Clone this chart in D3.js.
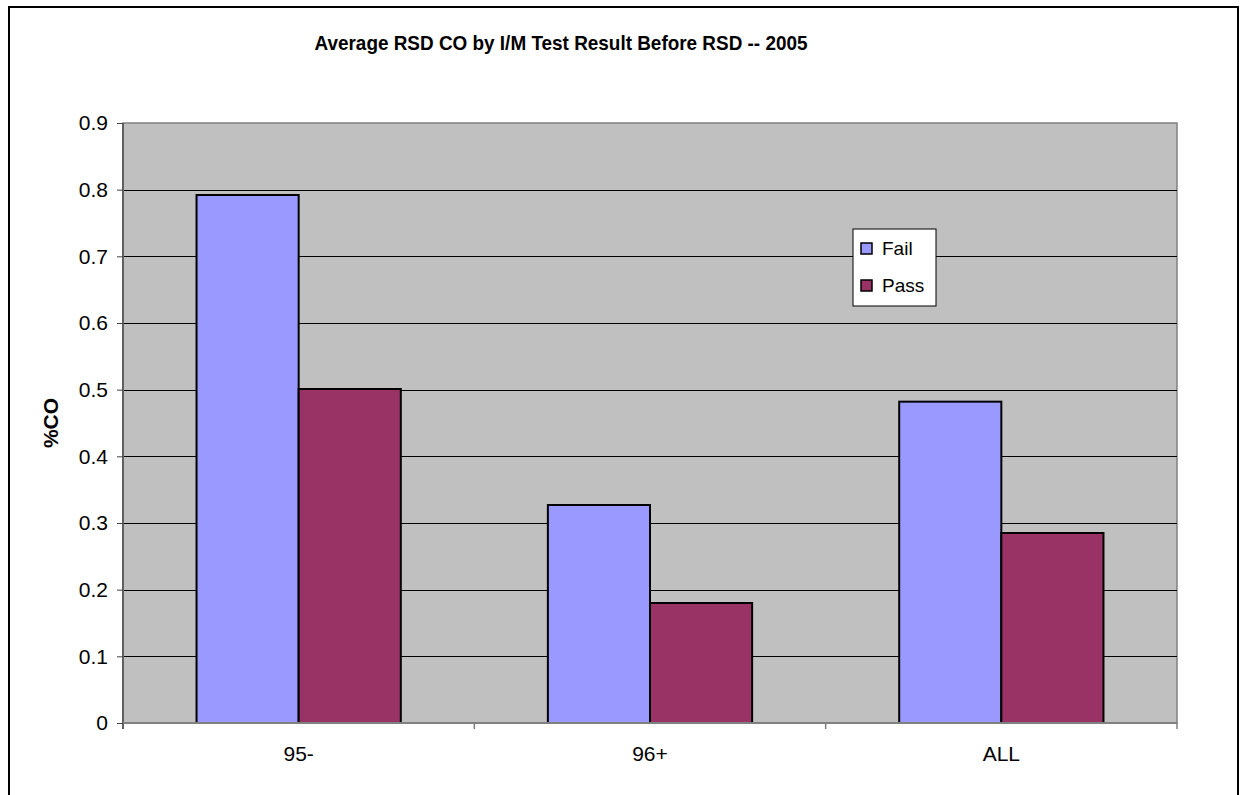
<!DOCTYPE html>
<html>
<head>
<meta charset="utf-8">
<script src="https://cdn.jsdelivr.net/npm/d3@7"></script>
<style>
  body { margin: 0; background: #fff; }
  text { font-family: "Liberation Sans", Arial, sans-serif; fill: #000; }
</style>
</head>
<body>
<div id="chart"></div>
<script>
var categories = ["95-", "96+", "ALL"];
var seriesNames = ["Fail", "Pass"];
var failValues = [0.792, 0.327, 0.482];
var passValues = [0.501, 0.180, 0.285];
var yTicks = [0, 0.1, 0.2, 0.3, 0.4, 0.5, 0.6, 0.7, 0.8, 0.9];
var colors = { Fail: "#9999ff", Pass: "#993366" };

var data = categories.map(function (c, i) {
  return { cat: c, Fail: failValues[i], Pass: passValues[i] };
});

var W = 1241, H = 795;
var margin = { top: 123, right: 64, bottom: 72, left: 123 };
var width = W - margin.left - margin.right;
var height = H - margin.top - margin.bottom;

var svg = d3.select("#chart").append("svg")
  .attr("width", W)
  .attr("height", H);

// outer chart border
svg.append("rect")
  .attr("x", 9).attr("y", 7)
  .attr("width", 1229).attr("height", 800)
  .attr("fill", "#fff")
  .attr("stroke", "#000")
  .attr("stroke-width", 2);

var g = svg.append("g")
  .attr("transform", "translate(" + margin.left + "," + margin.top + ")");

var x0 = d3.scaleBand().domain(categories).range([0, width]).padding(0);
var x1 = d3.scaleBand().domain(seriesNames).range([0, x0.bandwidth()])
  .paddingInner(0).paddingOuter(0.72);
var y = d3.scaleLinear().domain([0, 0.9]).range([height, 0]);

// plot area
g.append("rect")
  .attr("width", width).attr("height", height)
  .attr("fill", "#c0c0c0")
  .attr("stroke", "#808080")
  .attr("stroke-width", 1.5);

// gridlines
g.selectAll(".grid")
  .data(yTicks.filter(function (d) { return d > 0 && d < 0.9; }))
  .enter().append("line")
  .attr("x1", 0).attr("x2", width)
  .attr("y1", function (d) { return Math.round(y(d)) + 0.5; })
  .attr("y2", function (d) { return Math.round(y(d)) + 0.5; })
  .attr("stroke", "#000")
  .attr("stroke-width", 1);

// bars
var groups = g.selectAll(".grp")
  .data(data)
  .enter().append("g")
  .attr("transform", function (d) { return "translate(" + x0(d.cat) + ",0)"; });

groups.selectAll("rect")
  .data(function (d) { return seriesNames.map(function (k) { return { key: k, value: d[k] }; }); })
  .enter().append("rect")
  .attr("x", function (d) { return x1(d.key); })
  .attr("y", function (d) { return y(d.value); })
  .attr("width", x1.bandwidth())
  .attr("height", function (d) { return height - y(d.value); })
  .attr("fill", function (d) { return colors[d.key]; })
  .attr("stroke", "#000")
  .attr("stroke-width", 2);

// y axis
var yAxis = g.append("g")
  .call(d3.axisLeft(y).tickValues(yTicks).tickFormat(d3.format("~g")).tickSize(6).tickPadding(9));
yAxis.select(".domain").attr("stroke", "#606060").attr("stroke-width", 2)
  .attr("d", "M0,0V" + (height + 6));
yAxis.selectAll(".tick line").attr("stroke", "#404040");
yAxis.selectAll(".tick text")
  .style("font-size", "21px")
  .style("font-family", "Liberation Sans, Arial, sans-serif")
  .attr("fill", "#000");

// x axis
var xAxis = g.append("g")
  .attr("transform", "translate(0," + height + ")")
  .call(d3.axisBottom(x0).tickSize(0).tickPadding(23));
xAxis.select(".domain").attr("stroke", "#808080").attr("stroke-width", 2)
  .attr("d", "M0,0H" + width);
xAxis.selectAll(".tick text")
  .style("font-size", "21px")
  .style("font-family", "Liberation Sans, Arial, sans-serif")
  .attr("fill", "#000");

// category separator ticks
g.selectAll(".xsep")
  .data(categories.slice(1).concat(["end"]))
  .enter().append("line")
  .attr("x1", function (d, i) { return i < categories.length - 1 ? x0(d) : width; })
  .attr("x2", function (d, i) { return i < categories.length - 1 ? x0(d) : width; })
  .attr("y1", height)
  .attr("y2", height + 6)
  .attr("stroke", "#808080")
  .attr("stroke-width", 1.5);

// title
svg.append("text")
  .attr("x", 561)
  .attr("y", 50)
  .attr("text-anchor", "middle")
  .attr("textLength", 493)
  .attr("lengthAdjust", "spacingAndGlyphs")
  .style("font-size", "21px")
  .style("font-weight", "bold")
  .text("Average RSD CO by I/M Test Result Before RSD -- 2005");

// y label
svg.append("text")
  .attr("transform", "translate(58,423) rotate(-90)")
  .attr("text-anchor", "middle")
  .style("font-size", "21px")
  .style("font-weight", "bold")
  .text("%CO");

// legend
var legend = svg.append("g").attr("transform", "translate(853,229)");
legend.append("rect")
  .attr("width", 83).attr("height", 77)
  .attr("fill", "#fff")
  .attr("stroke", "#000")
  .attr("stroke-width", 1);
var items = legend.selectAll(".item")
  .data(seriesNames)
  .enter().append("g")
  .attr("transform", function (d, i) { return "translate(8," + (14 + i * 37) + ")"; });
items.append("rect")
  .attr("width", 11).attr("height", 11)
  .attr("fill", function (d) { return colors[d]; })
  .attr("stroke", "#000")
  .attr("stroke-width", 1.5);
items.append("text")
  .attr("x", 21)
  .attr("y", 12)
  .style("font-size", "19px")
  .text(function (d) { return d; });
</script>
</body>
</html>
